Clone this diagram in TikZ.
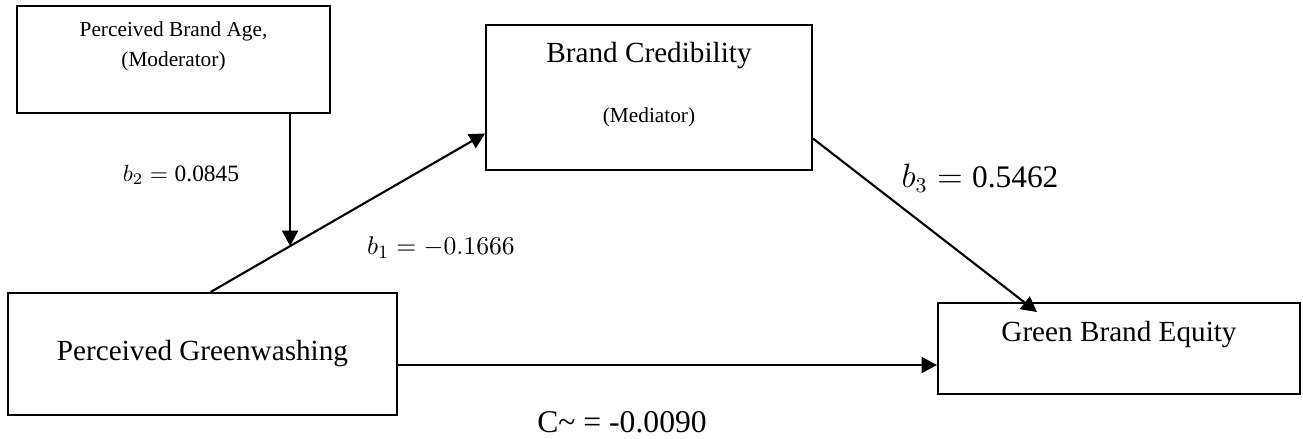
\documentclass[tikz,border=0pt]{standalone}
\usepackage{fontspec}
\setmainfont{Liberation Serif}
\usetikzlibrary{arrows.meta,calc}

\tikzset{
  varbox/.style={draw=black, line width=0.8pt, align=center, inner sep=0pt},
  path arrow/.style={draw=black, line width=0.9pt, -{Triangle[length=6.6pt,width=6.8pt]}},
  coef/.style={inner sep=0pt}
}

\begin{document}
\begin{tikzpicture}[x=0.015cm, y=-0.015cm]
    \useasboundingbox (0,0) rectangle (1303,438);
    % Variables
    \node [varbox, minimum width=4.695cm, minimum height=1.605cm,
      font=\fontsize{9.1pt}{12.8pt}\selectfont] (mod) at (173.5,59.5)
      {Perceived Brand Age,\\(Moderator)\\\mbox{}};
    \node [varbox, minimum width=4.89cm, minimum height=2.175cm,
      font=\fontsize{12.46pt}{13.2pt}\selectfont] (bc) at (649,97.5)
      {Brand Credibility\\[12.4pt]{\fontsize{9.1pt}{10pt}\selectfont (Mediator)}\\\mbox{}};
    \node [varbox, minimum width=5.835cm, minimum height=1.83cm,
      font=\fontsize{12.46pt}{15pt}\selectfont] (pg) at (202.5,354)
      {Perceived Greenwashing};
    \node [varbox, minimum width=5.43cm, minimum height=1.365cm,
      font=\fontsize{12.46pt}{15pt}\selectfont] (gbe) at (1119,348.5)
      {Green Brand Equity\\\mbox{}};
    % Paths
    \coordinate (pgtail) at ($(pg.north)+(8,0)$);
    \coordinate (bchead) at ($(bc.west)+(0,36)$);
    \coordinate (hit) at ($(pgtail)!0.29!(bchead)$);
    \draw [path arrow] (pgtail) -- (bchead);
    \draw [path arrow] (mod.south -| hit) -- (hit);
    \coordinate (bctail) at ($(bc.east)+(0,41)$);
    \coordinate (gbehead) at ($(gbe.north)+(-82,10)$);
    \draw [path arrow] (bctail) -- (gbehead);
    \coordinate (pgright) at ($(pg.east)+(0,11)$);
    \draw [path arrow] (pgright) -- (pgright -| gbe.west);
    % Coefficients
    \node [coef, font=\fontsize{10pt}{12pt}\selectfont] (b2) at (181,175) {$b_2 = \mbox{0.0845}$};
    \node [coef, font=\fontsize{10.8pt}{13pt}\selectfont] (b1) at (441,248) {$b_1 = -0.1666$};
    \node [coef, font=\fontsize{13.4pt}{16pt}\selectfont] (b3) at (980,178) {$b_3 = \mbox{0.5462}$};
    \node [coef, font=\fontsize{13.5pt}{16pt}\selectfont] (cdirect) at (622,422)
      {C\textasciitilde{} = -0.0090};
\end{tikzpicture}
\end{document}
